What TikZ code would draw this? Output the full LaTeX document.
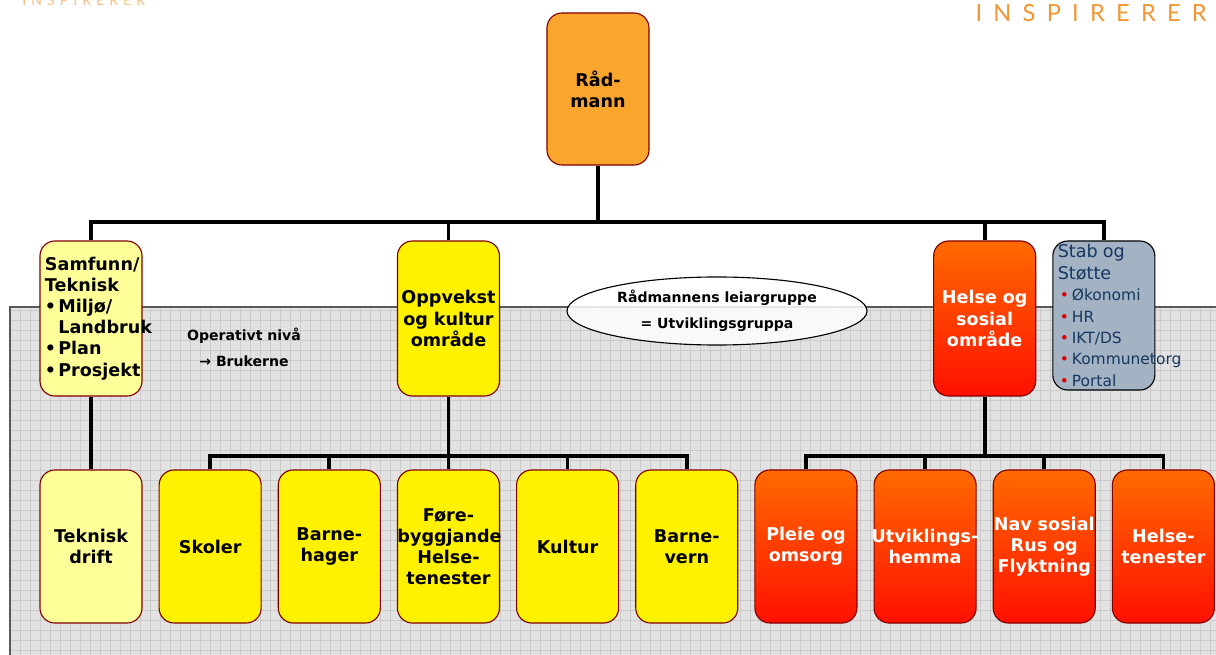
\documentclass[tikz,border=0pt]{standalone}
\usepackage{fontspec}
\setmainfont{DejaVu Sans}
\newfontfamily\logofont{Lato}
\usepackage{tikz}
\usetikzlibrary{positioning,shapes.geometric,calc}

\definecolor{raadorange}{RGB}{250,166,46}
\definecolor{lightyellow}{RGB}{255,255,153}
\definecolor{boxline}{RGB}{128,0,0}
\definecolor{helsetop}{RGB}{255,106,0}
\definecolor{helsebottom}{RGB}{255,16,0}
\definecolor{stabfill}{RGB}{163,179,196}
\definecolor{stabtext}{RGB}{23,55,94}
\definecolor{panelgray}{RGB}{226,226,226}
\definecolor{gridgray}{RGB}{203,203,203}
\definecolor{logoorange}{RGB}{240,150,50}

\newcommand{\logoword}[1]{I\kern#1 N\kern#1 S\kern#1 P\kern#1 I\kern#1 R\kern#1 E\kern#1 R\kern#1 E\kern#1 R}
\newcommand{\ovf}[1]{\makebox[\linewidth]{#1}}
\newcommand{\bitem}[1]{\makebox[9.5pt][l]{•}#1}
\newcommand{\sitem}[1]{\makebox[10pt][l]{\hspace{1.5pt}\textcolor{red!85!black}{\fontsize{11}{11}\selectfont •}}#1}

\begin{document}
\hyphenpenalty=10000
\exhyphenpenalty=10000
\begin{tikzpicture}[x=0.025cm, y=-0.025cm,
orgbox/.style={rectangle, rounded corners=0.375cm, draw=boxline, line width=0.8pt, minimum width=2.55cm, text width=2.55cm, inner sep=0pt, align=center, font=\fontsize{12.5}{15}\selectfont\bfseries},
topbox/.style={orgbox, minimum height=3.8cm, fill=raadorange},
midbox/.style={orgbox, minimum height=3.875cm},
lowbox/.style={orgbox, minimum height=3.825cm},
yellowbox/.style={fill=yellow},
redbox/.style={top color=helsetop, bottom color=helsebottom, text=white},
stabbox/.style={rectangle, rounded corners=0.375cm, draw=black, line width=0.8pt, fill=stabfill, minimum width=2.55cm, minimum height=3.725cm, text width=2.3cm, inner xsep=0.125cm, inner ysep=0pt, align=left, text=stabtext, font=\fontsize{11}{15.2}\selectfont},
bus/.style={line width=2.6pt},
]
\useasboundingbox (0,0) rectangle (1216,655);

% grey panel
\fill[panelgray] (10,307) rectangle (1216,655);
\draw[gridgray, line width=0.5pt, step=0.25cm] (10,655) grid (1216,307);
\draw[black!65, line width=0.8pt] (1216,307) -- (10,307) -- (10,655);

% logo
\node[anchor=base east, inner sep=0pt, text=logoorange, font=\logofont\fontsize{16.8}{20}\selectfont] (logo) at (1207,22) {\logoword{8pt}};
\node[anchor=base west, inner sep=0pt, text=logoorange!60, font=\logofont\fontsize{10}{12}\selectfont] (logosmall) at (22,6) {\logoword{3.6pt}};

% boxes
\node[topbox] (radmann) at (598,89) {Råd-\\mann};

\node[lowbox, fill=lightyellow] (teknisk) at (91,546.5) {Teknisk\\drift};
\node[lowbox, yellowbox, right=0.40cm of teknisk] (skoler) {Skoler};
\node[lowbox, yellowbox, right=0.40cm of skoler] (barnehage) {Barne-\\hager};
\node[lowbox, yellowbox, right=0.40cm of barnehage] (forebygg) {Føre-\\byggjande\\Helse-\\tenester};
\node[lowbox, yellowbox, right=0.40cm of forebygg] (kultur) {Kultur};
\node[lowbox, yellowbox, right=0.40cm of kultur] (barnevern) {Barne-\\vern};
\node[lowbox, redbox, right=0.40cm of barnevern] (pleie) {Pleie og\\omsorg};
\node[lowbox, redbox, right=0.40cm of pleie] (utvikling) {\ovf{Utviklings-}\\hemma};
\node[lowbox, redbox, right=0.40cm of utvikling] (nav) {\ovf{Nav sosial}\\Rus og\\Flyktning};
\node[lowbox, redbox, right=0.40cm of nav] (helseten) {Helse-\\tenester};

\node[midbox, fill=lightyellow, align=left, text width=2.3cm, inner xsep=0.125cm, above=1.82cm of teknisk] (samfunn) {Samfunn/\\Teknisk\\\bitem{Miljø/}\\\hspace*{9.5pt}\mbox{Landbruk}\\\bitem{Plan}\\\bitem{Prosjekt}};
\node[midbox, yellowbox, above=1.82cm of forebygg] (oppvekst) {Oppvekst\\og kultur\\område};
\coordinate (helsemid) at ($(utvikling.north)!0.5!(nav.north)$);
\node[midbox, redbox, above=1.82cm of helsemid] (helse) {Helse og\\sosial\\område};
\node[stabbox, below right=0cm and 0.40cm of helse.north east] (stab) {{\fontsize{12.5}{15}\selectfont Stab og}\\{\fontsize{12.5}{15}\selectfont Støtte}\\\sitem{Økonomi}\\\sitem{HR}\\\sitem{IKT/DS}\\\sitem{\mbox{Kommunetorg}}\\\sitem{Portal}};

\node[ellipse, draw, line width=0.8pt, fill=white, fill opacity=0.85, text opacity=1, minimum width=7.5cm, minimum height=1.7cm, inner sep=0pt, align=center, font=\fontsize{10}{18.5}\selectfont\bfseries] (leiar) at (717,311) {Rådmannens leiargruppe\\= Utviklingsgruppa};
\node[align=center, font=\fontsize{10}{18.5}\selectfont\bfseries] (operativt) at (244,347) {Operativt nivå\\→ Brukerne};

% connectors
\coordinate (topbus) at (598,222);
\coordinate (lowbus) at (448,456);
\draw[bus] (radmann.south) -- (topbus);
\draw[bus] (samfunn.north) -- (samfunn.north |- topbus) -- (stab.north |- topbus) -- (stab.north);
\draw[bus] (oppvekst.north) -- (oppvekst.north |- topbus);
\draw[bus] (helse.north) -- (helse.north |- topbus);
\draw[bus] (samfunn.south) -- (teknisk.north);

\draw[bus] (oppvekst.south) -- (oppvekst.south |- lowbus);
\draw[bus] (skoler.north) -- (skoler.north |- lowbus) -- (barnevern.north |- lowbus) -- (barnevern.north);
\foreach \n in {barnehage,forebygg,kultur}
  \draw[bus] (\n.north) -- (\n.north |- lowbus);
\draw[bus] (helse.south) -- (helse.south |- lowbus);
\draw[bus] (pleie.north) -- (pleie.north |- lowbus) -- (helseten.north |- lowbus) -- (helseten.north);
\foreach \n in {utvikling,nav}
  \draw[bus] (\n.north) -- (\n.north |- lowbus);

\end{tikzpicture}
\end{document}
